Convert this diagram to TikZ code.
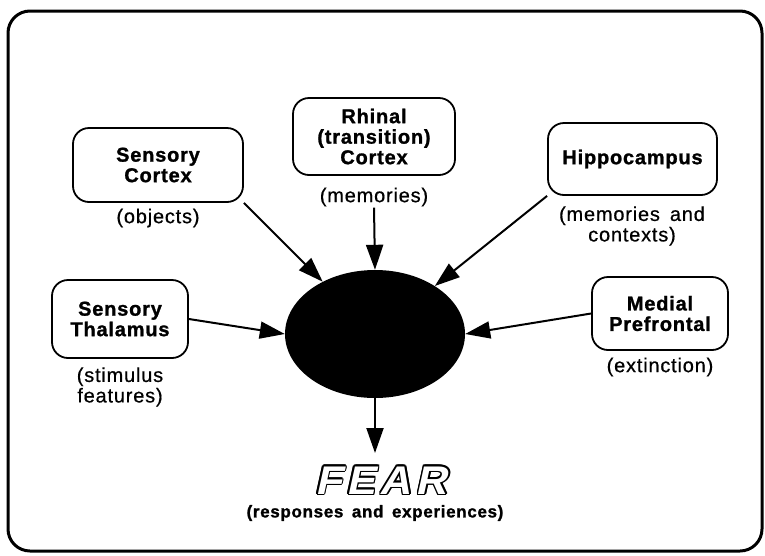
\documentclass[tikz,border=0pt]{standalone}
\usepackage{fontspec}
\setmainfont{Liberation Sans}
\newfontfamily\boxboldfont[LetterSpace=4,FakeBold=1.2]{Liberation Sans Bold}
\newfontfamily\lblfont[LetterSpace=4,FakeBold=0.6]{Liberation Sans}
\newfontfamily\fearfont[FakeSlant=0.22,FakeStretch=1.08,LetterSpace=12]{Liberation Sans Bold}
\usepackage{contour}
\usetikzlibrary{arrows.meta,shapes.geometric}
\tikzset{
  region/.style={draw, line width=1.8pt, rounded corners=16pt, align=center,
    font=\boxboldfont\fontsize{20}{20.5}\selectfont, inner sep=0pt},
  lbl/.style={align=center, font=\lblfont\fontsize{20}{20.5}\selectfont, inner sep=1pt},
  arr/.style={line width=2pt, -{Triangle[length=25pt,width=17pt]}},
}
\begin{document}
\begin{tikzpicture}[x=1pt,y=-1pt]
\useasboundingbox (0,0) rectangle (765,555);
\draw[line width=3pt, rounded corners=22pt] (8,11) rectangle (762,551);

\node[ellipse, fill=black, minimum width=180pt, minimum height=128pt, inner sep=0pt] (amy) at (375,334) {};

\node[region, minimum width=170pt, minimum height=74pt] (sc) at (158,165) {Sensory\\Cortex};
\node[lbl] (scl) at (158,218) {(objects)};

\node[region, minimum width=136pt, minimum height=78pt] (st) at (120,319) {Sensory\\Thalamus};
\node[lbl] (stl) at (120,387) {(stimulus\\features)};

\node[region, minimum width=162pt, minimum height=77pt] (rh) at (374,136.5) {Rhinal\\(transition)\\Cortex};
\node[lbl] (rhl) at (374,197) {(memories)};

\node[region, minimum width=169pt, minimum height=72pt] (hp) at (632.5,159) {Hippocampus};
\node[lbl] (hpl) at (632,226) {(memories\enspace and\\contexts)};

\node[region, minimum width=136pt, minimum height=73pt] (mp) at (660,313.5) {Medial\\Prefrontal};
\node[lbl] (mpl) at (660,367) {(extinction)};

\contourlength{1.4pt}
\contournumber{10}
\node[inner sep=0pt, font=\fearfont\fontsize{40}{40}\selectfont] (fear) at (381,481)
  {\contour{black}{\textcolor{white}{FEAR}}};
\node[inner sep=1pt, font=\boxboldfont\fontsize{17}{18}\selectfont] (resp) at (375,513) {(responses\enspace and\enspace experiences)};

\coordinate (tip) at (375,453);
\draw[arr] (sc.south east) -- (amy);
\draw[arr] (rhl.south) -- (amy.north);
\draw[arr] (hp.south west) -- (amy);
\draw[arr] (st.east) -- (amy.west);
\draw[arr] (mp.west) -- (amy.east);
\draw[arr] (amy.south) -- (tip);
\end{tikzpicture}
\end{document}
